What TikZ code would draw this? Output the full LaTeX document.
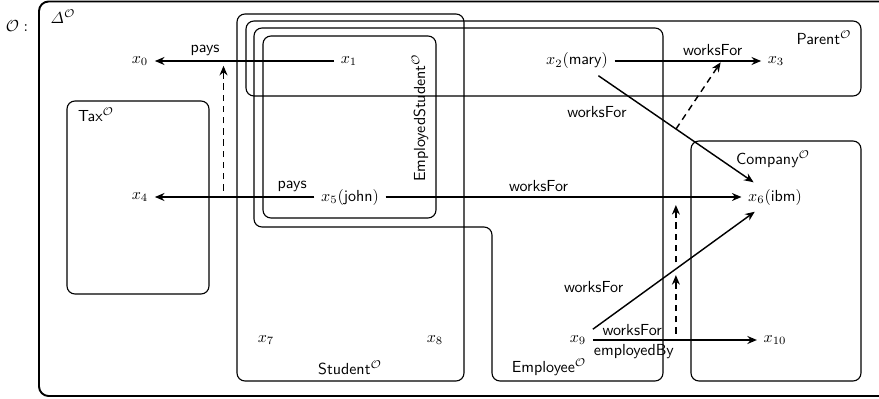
\documentclass[tikz,border=0pt]{standalone}
\usepackage{amsmath}
\usetikzlibrary{arrows.meta}
\begin{document}
\begin{tikzpicture}[x=0.625pt,y=-0.625pt,
  region/.style={draw, line width=0.7pt, rounded corners=5pt},
  rel/.style={line width=0.9pt, -{Stealth[length=6pt,width=5pt,inset=2pt]}},
  incl/.style={rel, dash pattern=on 4pt off 3pt},
  ind/.style={inner sep=4pt},
  lbl/.style={font=\sffamily, inner sep=1pt},
]
\useasboundingbox (0,0) rectangle (879,398);
\clip (0,0) rectangle (879,398);

% the domain of the interpretation
\draw[line width=1.2pt, rounded corners=6pt] (39,1.5) rectangle (930,396);
\node (oname) at (17,26) {$\mathcal{O}:$};
\node (delta) at (63,17) {$\varDelta^{\mathcal{O}}$};

% extensions of the concepts
\draw[region] (67,101) rectangle (209,294);
\draw[region] (237,14) rectangle (464,381);
\draw[region] (246,21) rectangle (861,96);
\draw[region] (254,28) -- (663,28) -- (663,381) -- (492,381) -- (492,227) -- (254,227) -- cycle;
\draw[region] (263,36) rectangle (436,218);
\draw[region] (691,141) rectangle (861,381);

\node[lbl] (ltax) at (96,115) {Tax$^{\mathcal{O}}$};
\node[lbl] (lparent) at (824,38) {Parent$^{\mathcal{O}}$};
\node[lbl] (lcompany) at (773,159) {Company$^{\mathcal{O}}$};
\node[lbl] (lstudent) at (350,368) {Student$^{\mathcal{O}}$};
\node[lbl] (lemployee) at (549,367) {Employee$^{\mathcal{O}}$};
\node[lbl, rotate=90] (lempstud) at (420,118) {EmployedStudent$^{\mathcal{O}}$};

% individuals
\node[ind] (x0) at (140,61) {$x_0$};
\node[ind] (x1) at (349,61) {$x_1$};
\node[ind] (x2) at (577,61) {$x_2(\textsf{mary})$};
\node[ind] (x3) at (776,61) {$x_3$};
\node[ind] (x4) at (140,197) {$x_4$};
\node[ind] (x5) at (350,197) {$x_5(\textsf{john})$};
\node[ind] (x6) at (775,197) {$x_6(\textsf{ibm})$};
\node[ind] (x7) at (266,340) {$x_7$};
\node[ind] (x8) at (435,340) {$x_8$};
\node[ind] (x9) at (578,340) {$x_9$};
\node[ind] (x10) at (775,340) {$x_{10}$};

% role assertions
\draw[rel] (x1) -- node[lbl, above=2pt, pos=0.72] {pays} (x0);
\draw[rel] (x5) -- node[lbl, above=2pt, pos=0.14] {pays} coordinate[pos=0.57] (pA) (x4);
\draw[rel] (x2) -- node[lbl, above=2pt, pos=0.67] {worksFor} coordinate[pos=0.73] (pC) (x3);
\draw[rel] (x2) -- node[lbl, left=14pt, pos=0.34] {worksFor} coordinate[pos=0.5] (pB) (x6);
\draw[rel] (x5) -- node[lbl, above=2pt, pos=0.43] {worksFor} (x6);
\draw[rel] (x9) -- node[lbl, left=16pt, pos=0.36] {worksFor} coordinate[pos=0.515] (pE) (x6);
\draw[rel] (x9) -- node[lbl, above=1pt, pos=0.24] {worksFor}
                   node[lbl, below=1pt, pos=0.25] {employedBy} coordinate[pos=0.506] (pD) (x10);

% role inclusions
\draw[incl, shorten <=4pt, shorten >=3pt] (pA) -- (pA |- x0);
\draw[incl, shorten >=1pt] (pB) -- (pC);
\draw[incl, shorten <=4pt, shorten >=4pt] (pD) -- (pD |- pE);
\draw[incl, shorten <=4pt, shorten >=5pt] (pD |- pE) -- (pD |- x6);
\end{tikzpicture}
\end{document}
